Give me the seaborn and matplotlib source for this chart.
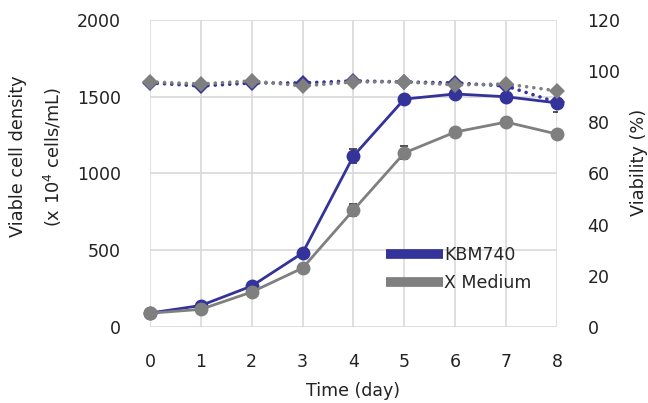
import numpy as np
import pandas as pd
import matplotlib
matplotlib.use("Agg")
import matplotlib.pyplot as plt
from matplotlib.lines import Line2D
import seaborn as sns

# ===============================
# Data
# ===============================
days = [0, 1, 2, 3, 4, 5, 6, 7, 8]
media = ["KBM740", "X Medium"]

vcd_kbm = [91, 140, 267, 482, 1114, 1485, 1518, 1500, 1460]
vcd_x = [90, 115, 228, 384, 762, 1134, 1270, 1335, 1257]
vcd_kbm_sd = [5, 8, 10, 12, 45, 15, 12, 15, 60]
vcd_x_sd = [5, 6, 8, 10, 42, 42, 12, 10, 10]

via_kbm = [95.4, 94.2, 95.4, 95.4, 96.2, 95.8, 95.4, 94.2, 87.8]
via_x = [95.8, 95.0, 96.2, 94.2, 95.8, 95.8, 94.6, 95.0, 92.3]

colors = {"KBM740": "#333399", "X Medium": "#7f7f7f"}

vcd = pd.DataFrame({
    "Day": days * 2,
    "VCD": vcd_kbm + vcd_x,
    "Medium": [media[0]] * len(days) + [media[1]] * len(days),
})
via = pd.DataFrame({
    "Day": days * 2,
    "Viability": via_kbm + via_x,
    "Medium": [media[0]] * len(days) + [media[1]] * len(days),
})

# ===============================
# Figure
# ===============================
sns.set_theme(style="white")
plt.rcParams["font.family"] = ["DejaVu Sans"]
fs = 12.5
txt = "#222222"

fig = plt.figure(figsize=(6.48, 4.03), dpi=100)
ax = fig.add_axes([0.2315, 0.1886, 0.628, 0.7618])
ax2 = ax.twinx()

# viable cell density (left axis)
for m, sd in zip(media, [vcd_kbm_sd, vcd_x_sd]):
    sub = vcd[vcd.Medium == m]
    ax.errorbar(sub.Day, sub.VCD, yerr=sd, fmt="none", ecolor="#333333",
                elinewidth=1, capsize=3, capthick=1.2, zorder=2)
sns.lineplot(data=vcd, x="Day", y="VCD", hue="Medium", palette=colors,
             marker="o", markersize=10, markeredgewidth=0, linewidth=2,
             legend=False, ax=ax, zorder=3, clip_on=False)

# viability (right axis)
sns.lineplot(data=via, x="Day", y="Viability", hue="Medium", palette=colors,
             marker="D", markersize=8, markeredgewidth=0, linewidth=2.6,
             linestyle=(0, (0.01, 2.0)), dash_capstyle="round",
             legend=False, ax=ax2, zorder=3, clip_on=False)

# axes styling
ax.set_xlim(0, 8)
ax.set_ylim(0, 2000)
ax.set_yticks([0, 500, 1000, 1500, 2000])
ax.set_xticks(days)
ax2.set_ylim(0, 120)
ax2.set_yticks([0, 20, 40, 60, 80, 100, 120])

ax.grid(True, color="#d9d9d9", linewidth=1.2)
ax.set_axisbelow(True)
for a in (ax, ax2):
    for s in a.spines.values():
        s.set_visible(False)
    a.tick_params(length=0, labelsize=fs, colors=txt)
ax.tick_params(axis="x", pad=19)
ax.tick_params(axis="y", pad=21)
ax2.tick_params(axis="y", pad=22)

ax.set_xlabel("Time (day)", fontsize=fs, color=txt, labelpad=8)
ax.set_ylabel("")
ax2.set_ylabel("")

# axis titles placed like the reference
fig.text(0.028, 0.613, "Viable cell density", rotation=90, fontsize=12.8,
         color=txt, ha="center", va="center")
fig.text(0.081, 0.610, "(x 10$^4$ cells/mL)", rotation=90, fontsize=12.8,
         color=txt, ha="center", va="center")
fig.text(0.986, 0.596, "Viability (%)", rotation=90, fontsize=12.8,
         color=txt, ha="center", va="center")

handles = [Line2D([], [], color=colors[m], linewidth=7, solid_capstyle="butt")
           for m in media]
ax.legend(handles, media, loc="lower left", bbox_to_anchor=(0.563, 0.09),
          frameon=False, fontsize=fs, handlelength=3.3, handletextpad=0.05,
          labelspacing=0.6, borderaxespad=0)

fig.savefig("out.png", dpi=100)
